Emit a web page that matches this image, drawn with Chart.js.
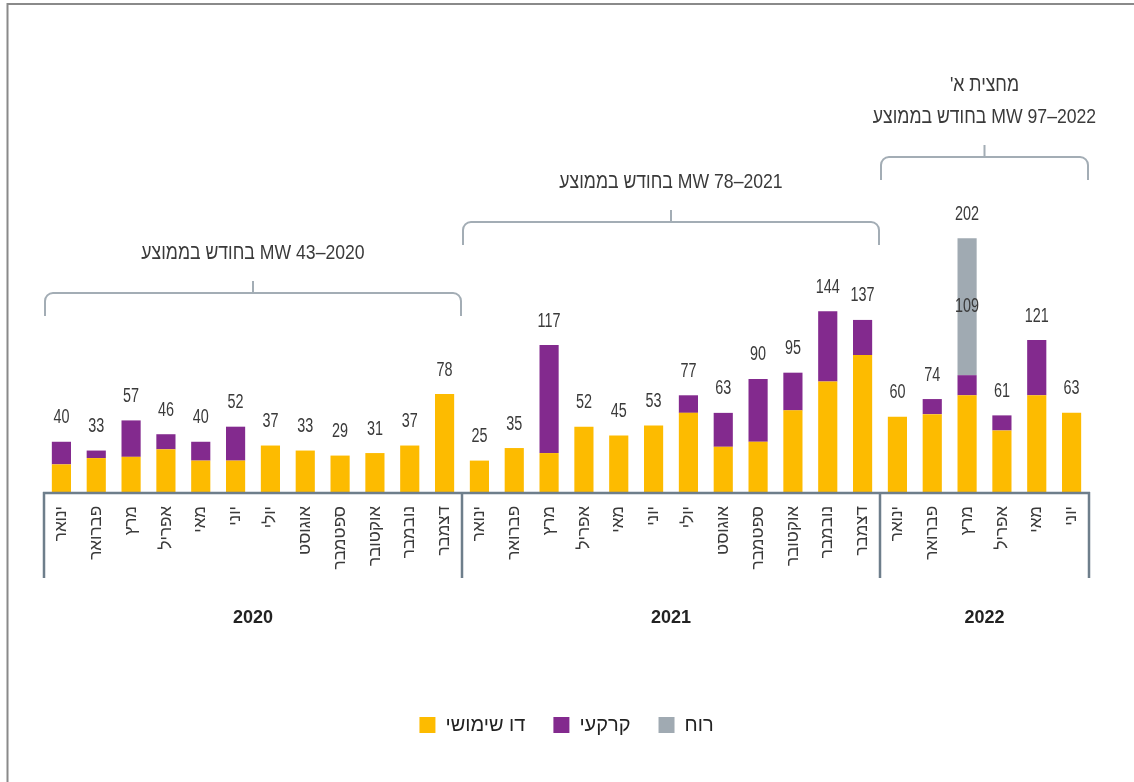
<!DOCTYPE html>
<html lang="he">
<head>
<meta charset="utf-8">
<title>הספק מותקן חודשי</title>
<script src="https://cdn.jsdelivr.net/npm/chart.js@4.4.0/dist/chart.umd.min.js"></script>
<style>
  html, body { margin: 0; padding: 0; background: #fff; }
  #wrap { width: 1134px; height: 782px; position: relative; }
</style>
</head>
<body>
<div id="wrap"><canvas id="capacityChart"></canvas></div>
<script>
// Data (MW per month)
const monthNames = ['ינואר', 'פברואר', 'מרץ', 'אפריל', 'מאי', 'יוני', 'יולי', 'אוגוסט', 'ספטמבר', 'אוקטובר', 'נובמבר', 'דצמבר'];
const years = ['2020', '2021', '2022'];
const monthsPerYear = [12, 12, 6];
const seriesNames = ['דו שימושי', 'קרקעי', 'רוח'];

const dualUse = [22, 27, 28, 34, 25, 25, 37, 33, 29, 31, 37, 78,
                 25, 35, 31, 52, 45, 53, 63, 36, 40, 65, 88, 109,
                 60, 62, 77, 49, 77, 63];
const ground = [18, 6, 29, 12, 15, 27, 0, 0, 0, 0, 0, 0,
                0, 0, 86, 0, 0, 0, 14, 27, 50, 30, 56, 28,
                0, 12, 16, 12, 44, 0];
const wind = [0, 0, 0, 0, 0, 0, 0, 0, 0, 0, 0, 0,
              0, 0, 0, 0, 0, 0, 0, 0, 0, 0, 0, 0,
              0, 0, 109, 0, 0, 0];

// average text above each year bracket (last line sits nearest the bracket)
const averageNotes = [
    ['2020–43 MW בחודש בממוצע'],
    ['2021–78 MW בחודש בממוצע'],
    ["מחצית א'", '2022–97 MW בחודש בממוצע']
];

const labels = years.flatMap((y, i) => monthNames.slice(0, monthsPerYear[i]));

const FONT = "'Liberation Sans', sans-serif";
const colors = ['#FDBB00', '#832A8E', '#A0AAB2'];

// the original uses a condensed face, so squeeze the text horizontally
function narrowText(ctx, text, x, y, sx) {
    ctx.save();
    ctx.translate(x, y);
    ctx.scale(sx, 1);
    ctx.fillText(text, 0, 0);
    ctx.restore();
}

// Draws totals, frame under the bars, year names and the average brackets
const annotations = {
    id: 'annotations',
    beforeDraw(chart) {
        const ctx = chart.ctx;
        ctx.save();
        ctx.strokeStyle = '#8a8a8a';
        ctx.lineWidth = 2;
        ctx.beginPath();
        ctx.moveTo(7, 4);
        ctx.lineTo(chart.width, 4);
        ctx.moveTo(7.5, 3);
        ctx.lineTo(7.5, chart.height);
        ctx.stroke();
        ctx.restore();
    },
    afterDatasetsDraw(chart) {
        const { ctx, chartArea, scales: { x } } = chart;
        const step = x.getPixelForValue(1) - x.getPixelForValue(0);
        ctx.save();

        // totals above each stack + value inside the wind segment
        ctx.font = '20px ' + FONT;
        ctx.fillStyle = '#3a3a3a';
        ctx.textAlign = 'center';
        ctx.textBaseline = 'middle';
        labels.forEach((_, j) => {
            let total = 0;
            let topY = chartArea.bottom;
            chart.data.datasets.forEach((ds, i) => {
                const v = ds.data[j];
                if (v > 0) {
                    total += v;
                    topY = chart.getDatasetMeta(i).data[j].y;
                }
            });
            narrowText(ctx, total, x.getPixelForValue(j), topY - 24, 0.72);
            if (wind[j] > 0) {
                const bar = chart.getDatasetMeta(2).data[j];
                narrowText(ctx, wind[j], bar.x, (bar.y + bar.base) / 2, 0.72);
            }
        });

        // group boundaries
        const bounds = [x.getPixelForValue(0) - step / 2];
        let idx = 0;
        monthsPerYear.forEach(n => {
            idx += n;
            bounds.push(x.getPixelForValue(idx - 1) + step / 2);
        });

        const bottom = chartArea.bottom;
        ctx.strokeStyle = '#6e7e8b';
        ctx.lineWidth = 2.5;
        ctx.beginPath();
        ctx.moveTo(bounds[0] - 1, bottom + 1);
        ctx.lineTo(bounds[bounds.length - 1] + 1, bottom + 1);
        bounds.forEach(b => {
            ctx.moveTo(b, bottom);
            ctx.lineTo(b, bottom + 86);
        });
        ctx.stroke();

        // year names
        ctx.font = 'bold 18px ' + FONT;
        ctx.fillStyle = '#222';
        years.forEach((yr, i) => {
            ctx.fillText(yr, (bounds[i] + bounds[i + 1]) / 2, bottom + 126);
        });

        // brackets with average text
        const bracketY = [293, 222, 157];
        const r = 8;
        ctx.strokeStyle = '#a3adb5';
        ctx.lineWidth = 2;
        ctx.font = '21px ' + FONT;
        ctx.fillStyle = '#3a3a3a';
        ctx.direction = 'rtl';
        years.forEach((yr, i) => {
            const l = bounds[i] + 1;
            const rt = bounds[i + 1] - 1;
            const y = bracketY[i];
            const cx = (l + rt) / 2;
            ctx.beginPath();
            ctx.moveTo(l, y + 23);
            ctx.lineTo(l, y + r);
            ctx.arcTo(l, y, l + r, y, r);
            ctx.lineTo(rt - r, y);
            ctx.arcTo(rt, y, rt, y + r, r);
            ctx.lineTo(rt, y + 23);
            ctx.moveTo(cx, y);
            ctx.lineTo(cx, y - 12);
            ctx.stroke();
            const lines = averageNotes[i];
            lines.forEach((t, k) => {
                narrowText(ctx, t, cx, y - 40 - (lines.length - 1 - k) * 32, 0.84);
            });
        });
        ctx.restore();
    }
};

const ctx = document.getElementById('capacityChart').getContext('2d');
const capacityChart = new Chart(ctx, {
    type: 'bar',
    data: {
        labels: labels,
        datasets: [dualUse, ground, wind].map((d, i) => ({
            label: seriesNames[i],
            data: d,
            backgroundColor: colors[i],
            borderWidth: 0,
            barPercentage: 0.55,
            categoryPercentage: 1.0
        }))
    },
    options: {
        responsive: true,
        maintainAspectRatio: false,
        animation: false,
        layout: { padding: { top: 178, left: 44, right: 45, bottom: 37 } },
        plugins: {
            legend: {
                position: 'bottom',
                labels: {
                    boxWidth: 16,
                    boxHeight: 16,
                    padding: 28,
                    color: '#222',
                    font: { family: FONT, size: 20 }
                }
            },
            tooltip: { enabled: false }
        },
        scales: {
            x: {
                stacked: true,
                grid: { display: false, drawTicks: false },
                border: { display: false },
                ticks: {
                    autoSkip: false,
                    minRotation: 90,
                    maxRotation: 90,
                    padding: 14,
                    color: '#3a3a3a',
                    font: { family: FONT, size: 17 }
                },
                afterFit(scale) { scale.height = 195; }
            },
            y: {
                stacked: true,
                display: false,
                min: 0,
                max: 250
            }
        }
    },
    plugins: [annotations]
});
</script>
</body>
</html>
